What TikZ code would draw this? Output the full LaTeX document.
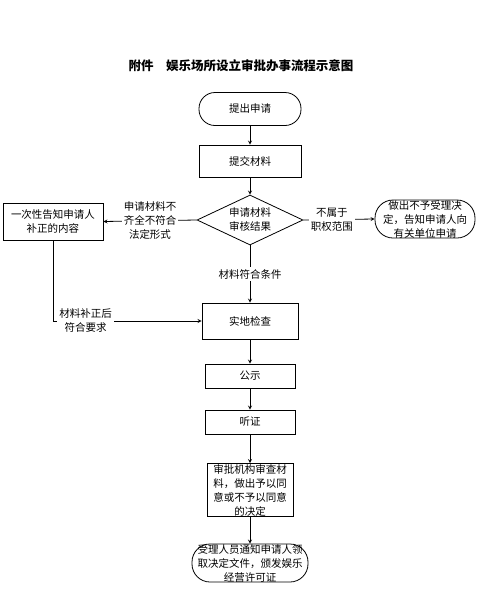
\documentclass[tikz,border=0pt]{standalone}
\usepackage{fontspec}
\setmainfont{Noto Sans CJK SC}
\usetikzlibrary{shapes.geometric}
\usetikzlibrary{arrows}

\begin{document}
\begin{tikzpicture}[x=1pt,y=-1pt,line width=0.8pt,
  every node/.style={font=\fontsize{10.5}{14}\selectfont,align=center,inner sep=0pt},
  box/.style={draw,rectangle},
  term/.style={draw,rectangle,rounded corners=#1},
  lbl/.style={fill=white,inner sep=2pt}]
\useasboundingbox (0,0) rectangle (480,598);

  \node[font=\fontsize{12.5}{15}\selectfont\bfseries] (title) at (241,66) {附件\hspace{1em}娱乐场所设立审批办事流程示意图};

  \node[term=16pt,minimum width=102pt,minimum height=33pt] (apply) at (250,109) {提出申请};
  \node[box,minimum width=102pt,minimum height=32pt] (submit) at (250,161) {提交材料};
  \node[draw,diamond,aspect=2.1,minimum width=106pt,minimum height=50pt] (review) at (250,220) {申请材料\\审核结果};

  \node[box,minimum width=100pt,minimum height=37pt] (notify) at (53,221.5) {一次性告知申请人\\补正的内容};
  \node[term=18pt,minimum width=100pt,minimum height=38pt] (reject) at (425,219) {做出不予受理决\\定，告知申请人向\\有关单位申请};

  \node[box,minimum width=96pt,minimum height=36pt] (inspect) at (250,321) {实地检查};
  \node[box,minimum width=90pt,minimum height=24pt] (publish) at (250,376) {公示};
  \node[box,minimum width=90pt,minimum height=24pt] (hearing) at (250,422) {听证};
  \node[box,minimum width=86pt,minimum height=53pt] (decide) at (250,490) {审批机构审查材\\料，做出予以同\\意或不予以同意\\的决定};
  \node[term=18pt,minimum width=116pt,minimum height=38pt] (issue) at (250,563) {受理人员通知申请人领\\取决定文件，颁发娱乐\\经营许可证};

  \draw[-stealth] (apply)--(submit);
  \draw[-stealth] (submit)--(review);
  \draw[-stealth] (review.west)--(notify.east) node[midway,lbl]{申请材料不\\齐全不符合\\法定形式};
  \draw[-stealth] (review.east)--(reject.west) node[pos=0.4,lbl]{不属于\\职权范围};
  \draw[-stealth] (review.south)--(inspect.north) node[midway,lbl]{材料符合条件};
  \draw[-stealth] (notify.south)|-(inspect.west) node[pos=0.61,lbl]{材料补正后\\符合要求};

  \draw[-stealth] (inspect)--(publish);
  \draw[-stealth] (publish)--(hearing);
  \draw[-stealth] (hearing)--(decide);
  \draw[-stealth] (decide)--(issue);

 \end{tikzpicture}
\end{document}
